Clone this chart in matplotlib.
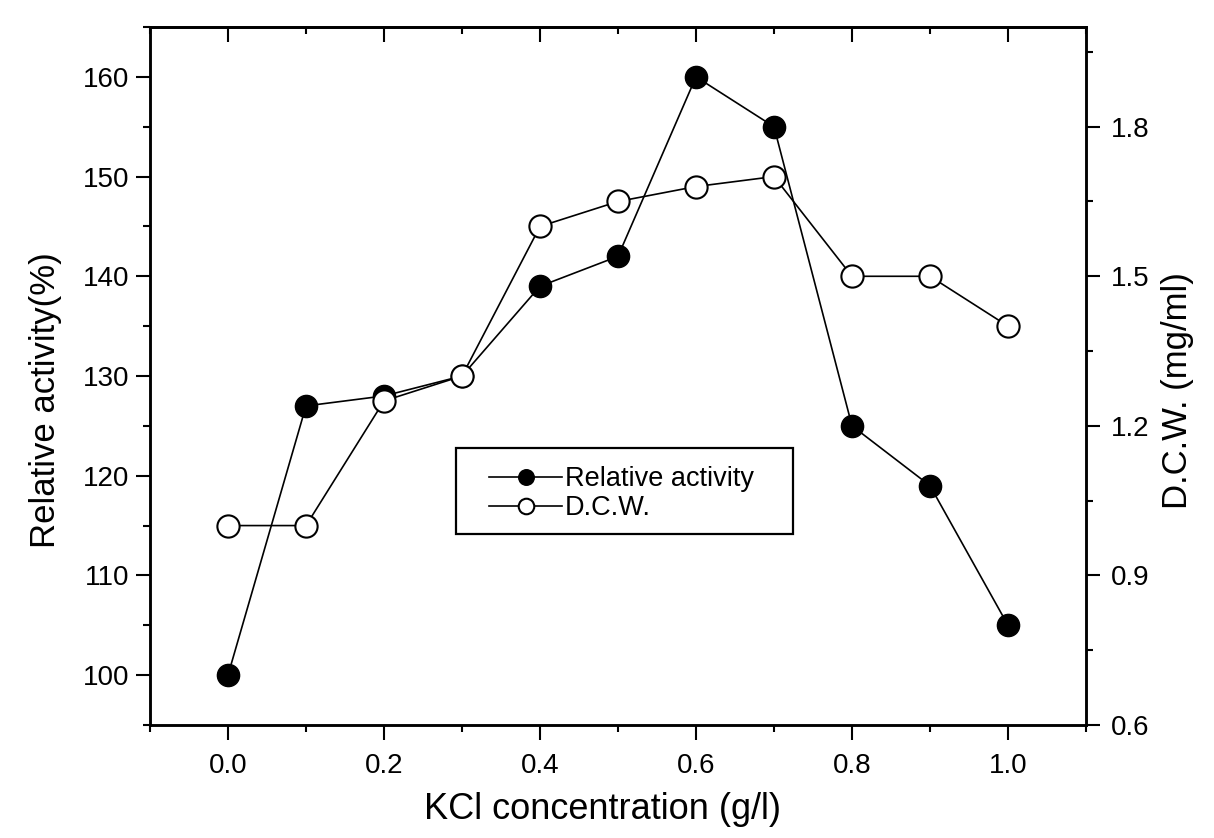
import matplotlib
matplotlib.use("Agg")
import matplotlib.pyplot as plt
from matplotlib.ticker import MultipleLocator
from matplotlib.patches import Rectangle

plt.rcParams['font.family'] = ['Liberation Sans', 'DejaVu Sans']

kcl = [0.0, 0.1, 0.2, 0.3, 0.4, 0.5, 0.6, 0.7, 0.8, 0.9, 1.0]
relative_activity = [100, 127, 128, 130, 139, 142, 160, 155, 125, 119, 105]
dcw = [1.0, 1.0, 1.25, 1.3, 1.6, 1.65, 1.68, 1.7, 1.5, 1.5, 1.4]

W, H = 1214, 838
fig = plt.figure(figsize=(W/100, H/100), dpi=100)
ax = fig.add_axes([150/W, 1-725/H, (1086-150)/W, (725-27)/H])
ax2 = ax.twinx()

l1, = ax.plot(kcl, relative_activity, '-o', color='black', lw=1.2,
              markersize=16, markerfacecolor='black', markeredgecolor='black',
              label='Relative activity')
l2, = ax2.plot(kcl, dcw, '-o', color='black', lw=1.2,
               markersize=16, markerfacecolor='white', markeredgecolor='black',
               markeredgewidth=1.5, label='D.C.W.')

ax.set_xlim(-0.1, 1.1)
ax.set_ylim(95, 165)
ax2.set_ylim(0.6, 2.0)

ax.xaxis.set_major_locator(MultipleLocator(0.2))
ax.xaxis.set_minor_locator(MultipleLocator(0.1))
ax.yaxis.set_major_locator(MultipleLocator(10))
ax.yaxis.set_minor_locator(MultipleLocator(5))
ax2.yaxis.set_major_locator(MultipleLocator(0.3))
ax2.yaxis.set_minor_locator(MultipleLocator(0.15))

ax.set_xticks([0.0, 0.2, 0.4, 0.6, 0.8, 1.0])
ax.set_xticklabels(['0.0', '0.2', '0.4', '0.6', '0.8', '1.0'])
ax2.set_yticks([0.6, 0.9, 1.2, 1.5, 1.8])
ax2.set_yticklabels(['0.6', '0.9', '1.2', '1.5', '1.8'])

for a in (ax, ax2):
    for s in a.spines.values():
        s.set_linewidth(1.8)

ax.tick_params(axis='x', which='major', direction='out', length=11, width=1.5,
               labelsize=20, pad=9, top=False)
ax.tick_params(axis='x', which='minor', direction='out', length=5, width=1.5, top=False)
ax.tick_params(axis='y', which='major', direction='out', length=10, width=1.5,
               labelsize=20, pad=5, right=False)
ax.tick_params(axis='y', which='minor', direction='out', length=5, width=1.5, right=False)
ax2.tick_params(axis='y', which='major', direction='out', length=10, width=1.5,
                labelsize=20, pad=8)
ax2.tick_params(axis='y', which='minor', direction='out', length=5, width=1.5)

# inward top ticks
sec = ax.secondary_xaxis('top')
sec.xaxis.set_major_locator(MultipleLocator(0.2))
sec.xaxis.set_minor_locator(MultipleLocator(0.1))
sec.tick_params(which='major', direction='in', length=11, width=1.5, labeltop=False)
sec.tick_params(which='minor', direction='in', length=5, width=1.5)
sec.spines['top'].set_linewidth(1.8)

ax.set_xlabel('KCl concentration (g/l)', fontsize=26)
ax.xaxis.set_label_coords((602-150)/936, (725-792)/698)
ax.set_ylabel('Relative activity(%)', fontsize=25)
ax.yaxis.set_label_coords((62-150)/936, (725-400)/698)
ax2.set_ylabel('D.C.W. (mg/ml)', fontsize=25, rotation=90)
ax2.yaxis.set_label_coords((1161-150)/936, (725-391)/698)

# legend content (no frame) and its box
leg = fig.legend([l1, l2], ['Relative activity', 'D.C.W.'],
                 loc='upper left', bbox_to_anchor=(489/W, 1-466/H),
                 fontsize=19.5, frameon=False, borderpad=0, borderaxespad=0,
                 handlelength=2.7, labelspacing=0.12,
                 handletextpad=0.1, markerscale=0.7)
fig.patches.append(Rectangle((456/W, 1-534/H), (793-456)/W, (534-448)/H,
                             transform=fig.transFigure, fill=False,
                             edgecolor='black', linewidth=1.6))

fig.savefig('out.png', dpi=100)
